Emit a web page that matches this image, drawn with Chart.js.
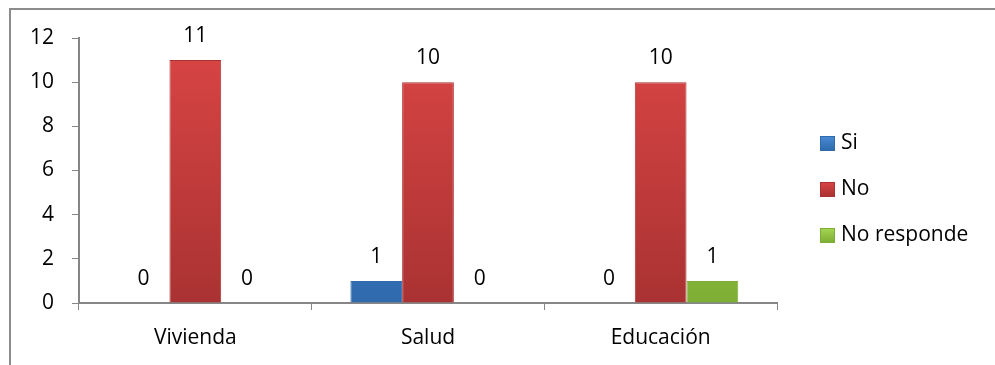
<!DOCTYPE html>
<html>
<head>
<meta charset="utf-8">
<script src="https://cdn.jsdelivr.net/npm/chart.js@4/dist/chart.umd.min.js"></script>
<style>
  html, body { margin: 0; padding: 0; background: #fff; }
  #wrap { position: relative; width: 995px; height: 365px; overflow: hidden; }
  #frame {
    position: absolute; left: 9px; top: 8px; width: 1000px; height: 400px;
    border-top: 2px solid #8c8c8c; border-left: 2px solid #8c8c8c;
  }
  #chart { position: absolute; left: 0; top: 0; }
</style>
</head>
<body>
<div id="wrap">
  <div id="frame"></div>
  <canvas id="chart" width="995" height="365"></canvas>
</div>
<script>
// categories and series
const categories = ['Vivienda', 'Salud', 'Educación'];
const seriesNames = ['Si', 'No', 'No responde'];
const siValues = [0, 1, 0];
const noValues = [11, 10, 10];
const noRespondeValues = [0, 0, 1];
const yTicks = [0, 2, 4, 6, 8, 10, 12];

const FONT = '"Open Sans", "DejaVu Sans", sans-serif';
const AXIS_GRAY = '#868686';

// [light, dark] per series, for a soft bevel-like shading
const SERIES_COLORS = [
  ['#4a8bd6', '#2f6aad'],
  ['#da4545', '#aa3232'],
  ['#a6d653', '#7fae35']
];

function barGradient(idx) {
  return (ctx) => {
    const chart = ctx.chart;
    const area = chart.chartArea;
    if (!area) return SERIES_COLORS[idx][0];
    const g = chart.ctx.createLinearGradient(0, area.top, 0, area.bottom);
    g.addColorStop(0, SERIES_COLORS[idx][0]);
    g.addColorStop(1, SERIES_COLORS[idx][1]);
    return g;
  };
}

// Value labels above every bar (the zero ones too)
const valueLabels = {
  id: 'valueLabels',
  afterDatasetsDraw(chart) {
    const { ctx } = chart;
    ctx.save();
    ctx.font = '21px ' + FONT;
    ctx.fillStyle = '#000';
    ctx.textAlign = 'center';
    ctx.textBaseline = 'middle';
    chart.data.datasets.forEach((ds, i) => {
      const meta = chart.getDatasetMeta(i);
      meta.data.forEach((bar, j) => {
        ctx.fillText(String(ds.data[j]), bar.x, bar.y - 24);
      });
    });
    ctx.restore();
  }
};

// Legend on the right, drawn next to the plot area
const sideLegend = {
  id: 'sideLegend',
  afterDraw(chart) {
    const { ctx, chartArea } = chart;
    const boxX = chartArea.right + 43;
    const firstY = 143;
    const step = 46;
    ctx.save();
    ctx.font = '21px ' + FONT;
    ctx.textBaseline = 'middle';
    chart.data.datasets.forEach((ds, i) => {
      const cy = firstY + i * step;
      const g = ctx.createLinearGradient(0, cy - 7, 0, cy + 7);
      g.addColorStop(0, SERIES_COLORS[i][0]);
      g.addColorStop(1, SERIES_COLORS[i][1]);
      ctx.fillStyle = g;
      ctx.fillRect(boxX, cy - 7, 15, 15);
      ctx.strokeStyle = SERIES_COLORS[i][1];
      ctx.lineWidth = 1;
      ctx.strokeRect(boxX + 0.5, cy - 6.5, 14, 14);
      ctx.fillStyle = '#000';
      ctx.fillText(ds.label, boxX + 21, cy);
    });
    ctx.restore();
  }
};

const datasets = [siValues, noValues, noRespondeValues].map((values, i) => ({
  label: seriesNames[i],
  data: values,
  backgroundColor: barGradient(i),
  borderColor: SERIES_COLORS[i][1],
  borderWidth: 1,
  barPercentage: 1,
  categoryPercentage: 0.667
}));

new Chart(document.getElementById('chart'), {
  type: 'bar',
  data: { labels: categories, datasets },
  options: {
    responsive: false,
    animation: false,
    devicePixelRatio: 1,
    layout: { padding: { left: 0, right: 218, top: 38, bottom: 0 } },
    plugins: {
      legend: { display: false },
      tooltip: { enabled: false }
    },
    scales: {
      x: {
        grid: {
          display: true,
          drawOnChartArea: false,
          drawTicks: true,
          tickLength: 7,
          color: AXIS_GRAY,
          offset: true
        },
        border: { color: AXIS_GRAY, width: 2 },
        ticks: { font: { family: FONT, size: 21 }, color: '#000', padding: 15 },
        afterFit(scale) { scale.height = 62; }
      },
      y: {
        min: 0,
        max: 12,
        afterBuildTicks(axis) {
          axis.ticks = yTicks.map(v => ({ value: v }));
        },
        grid: {
          display: true,
          drawOnChartArea: false,
          drawTicks: true,
          tickLength: 7,
          color: AXIS_GRAY
        },
        border: { color: AXIS_GRAY, width: 2 },
        ticks: { font: { family: FONT, size: 21 }, color: '#000', padding: 18 },
        afterFit(scale) { scale.width = 79; }
      }
    }
  },
  plugins: [valueLabels, sideLegend]
});
</script>
</body>
</html>
